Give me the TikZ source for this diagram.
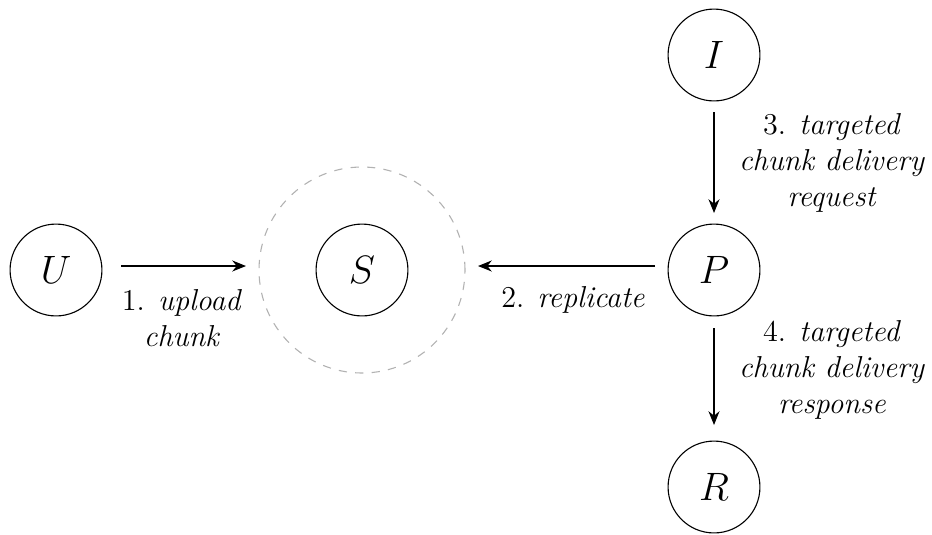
\documentclass[tikz,border=0pt]{standalone}
\usetikzlibrary{arrows.meta}
\begin{document}
\begin{tikzpicture}[x=0.3636pt,y=-0.3636pt,
  agent/.style={circle,draw,minimum size=33.4pt,inner sep=0pt,font=\Large},
  group/.style={circle,draw=gray!60,dashed,minimum size=74.9pt,inner sep=0pt},
  flow/.style={-{Stealth[length=5pt,width=4pt]}},
  lbl/.style={align=center,font=\fontsize{11}{13.2}\selectfont}]
\useasboundingbox (0,0) rectangle (932,534);
\node[group] (G) at (362,270) {};
\node[agent] (U) at (56,270) {$U$};
\node[agent] (S) at (362,270) {$S$};
\node[agent] (P) at (714,270) {$P$};
\node[agent] (I) at (714,55) {$I$};
\node[agent] (R) at (714,487) {$R$};
\coordinate (ua) at (121,266);
\coordinate (ub) at (246,266);
\coordinate (pa) at (655,266);
\coordinate (pb) at (478,266);
\coordinate (ia) at (714,112);
\coordinate (ib) at (714,213);
\coordinate (ra) at (714,328);
\coordinate (rb) at (714,425);
\draw[flow] (ua) -- (ub);
\draw[flow] (pa) -- (pb);
\draw[flow] (ia) -- (ib);
\draw[flow] (ra) -- (rb);
\node[lbl] (l1) at (182,318) {1. \textit{upload}\\\textit{chunk}};
\node[lbl] (l2) at (573,300) {2. \textit{replicate}};
\node[lbl] (l3) at (832,163) {3. \textit{targeted}\\\textit{chunk delivery}\\\textit{request}};
\node[lbl] (l4) at (832,370) {4. \textit{targeted}\\\textit{chunk delivery}\\\textit{response}};
\end{tikzpicture}
\end{document}
